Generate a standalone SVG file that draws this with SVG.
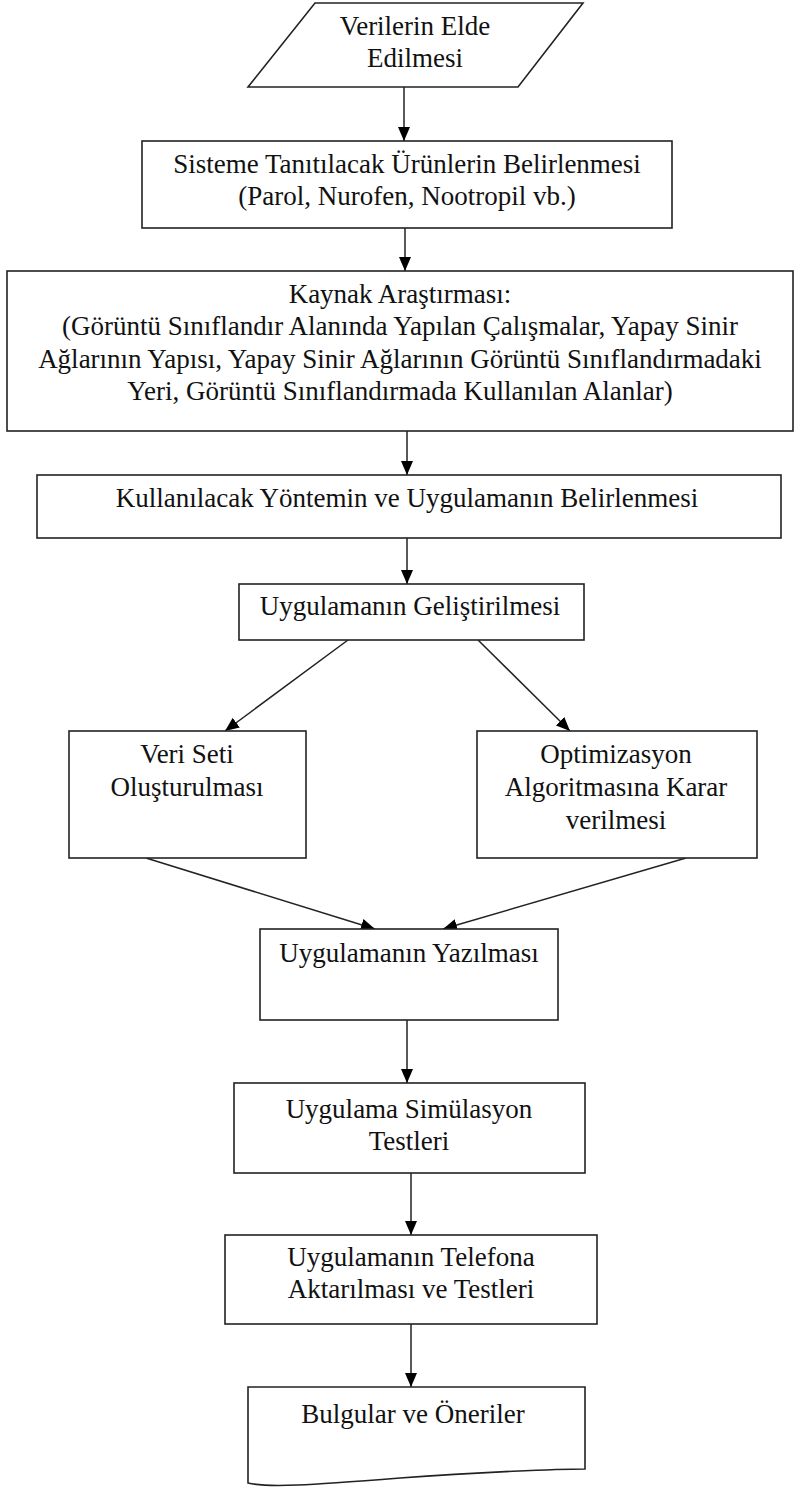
<svg xmlns="http://www.w3.org/2000/svg" width="795" height="1488" viewBox="0 0 795 1488">
<defs>
<marker id="arr" markerWidth="14" markerHeight="12" refX="14" refY="6" orient="auto" markerUnits="userSpaceOnUse">
<path d="M0,0 L14,6 L0,12 Z" fill="#000"/>
</marker>
<style>
.shape{fill:#fff;stroke:#222;stroke-width:1.6}
.lbl{font-family:"Liberation Serif","Times New Roman",serif;font-size:27px;fill:#111;text-anchor:middle}
.con{stroke:#222;stroke-width:1.5;fill:none;marker-end:url(#arr)}
</style>
</defs>
<rect width="795" height="1488" fill="#fff"/>
<g id="connectors">
<line class="con" x1="404" y1="87" x2="404" y2="141"/>
<line class="con" x1="405" y1="228" x2="405" y2="271"/>
<line class="con" x1="407" y1="431" x2="407" y2="475"/>
<line class="con" x1="407" y1="538" x2="407" y2="584"/>
<line class="con" x1="348" y1="640" x2="225" y2="731"/>
<line class="con" x1="478" y1="640" x2="570" y2="731"/>
<line class="con" x1="146" y1="858" x2="375" y2="929"/>
<line class="con" x1="686" y1="858" x2="443" y2="929"/>
<line class="con" x1="407" y1="1020" x2="407" y2="1083"/>
<line class="con" x1="411" y1="1173" x2="411" y2="1235"/>
<line class="con" x1="411" y1="1324" x2="411" y2="1387"/>
</g>
<g id="n1">
<polygon class="shape" points="315,3 583,3 518,87 248,87"/>
<text class="lbl" x="415" y="35">Verilerin Elde</text>
<text class="lbl" x="415" y="67">Edilmesi</text>
</g>
<g id="n2">
<rect class="shape" x="142" y="141" width="530" height="87"/>
<text class="lbl" x="407" y="173">Sisteme Tanıtılacak Ürünlerin Belirlenmesi</text>
<text class="lbl" x="407" y="205">(Parol, Nurofen, Nootropil vb.)</text>
</g>
<g id="n3">
<rect class="shape" x="7" y="271" width="786" height="160"/>
<text class="lbl" x="400" y="303">Kaynak Araştırması:</text>
<text class="lbl" x="400" y="335">(Görüntü Sınıflandır Alanında Yapılan Çalışmalar, Yapay Sinir</text>
<text class="lbl" x="400" y="368">Ağlarının Yapısı, Yapay Sinir Ağlarının Görüntü Sınıflandırmadaki</text>
<text class="lbl" x="400" y="400">Yeri, Görüntü Sınıflandırmada Kullanılan Alanlar)</text>
</g>
<g id="n4">
<rect class="shape" x="37" y="475" width="744" height="63"/>
<text class="lbl" x="407" y="507">Kullanılacak Yöntemin ve Uygulamanın Belirlenmesi</text>
</g>
<g id="n5">
<rect class="shape" x="239" y="584" width="345" height="56"/>
<text class="lbl" x="410" y="615">Uygulamanın Geliştirilmesi</text>
</g>
<g id="n6">
<rect class="shape" x="69" y="731" width="237" height="127"/>
<text class="lbl" x="187" y="763">Veri Seti</text>
<text class="lbl" x="187" y="796">Oluşturulması</text>
</g>
<g id="n7">
<rect class="shape" x="477" y="731" width="280" height="127"/>
<text class="lbl" x="616" y="763">Optimizasyon</text>
<text class="lbl" x="616" y="796">Algoritmasına Karar</text>
<text class="lbl" x="616" y="829">verilmesi</text>
</g>
<g id="n8">
<rect class="shape" x="260" y="929" width="298" height="91"/>
<text class="lbl" x="409" y="962">Uygulamanın Yazılması</text>
</g>
<g id="n9">
<rect class="shape" x="234" y="1083" width="351" height="90"/>
<text class="lbl" x="409" y="1118">Uygulama Simülasyon</text>
<text class="lbl" x="409" y="1150">Testleri</text>
</g>
<g id="n10">
<rect class="shape" x="225" y="1235" width="372" height="89"/>
<text class="lbl" x="411" y="1266">Uygulamanın Telefona</text>
<text class="lbl" x="411" y="1298">Aktarılması ve Testleri</text>
</g>
<g id="n11">
<path class="shape" d="M248,1387 L585,1387 L585,1469 C560,1469 480,1472 400,1478 C310,1485 268,1488 248,1483 Z"/>
<text class="lbl" x="413" y="1423">Bulgular ve Öneriler</text>
</g>
</svg>
